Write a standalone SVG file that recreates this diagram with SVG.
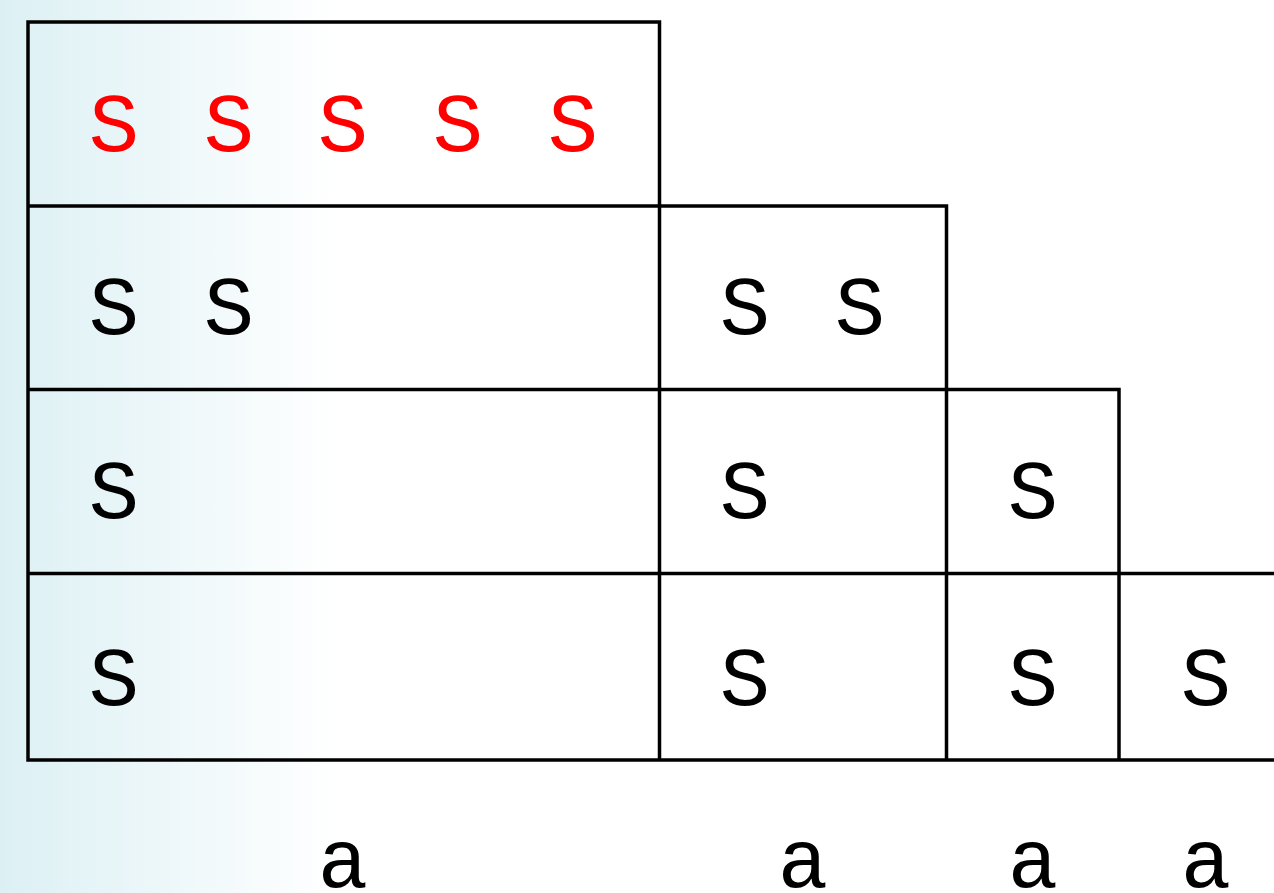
<svg xmlns="http://www.w3.org/2000/svg" width="1274" height="893" viewBox="0 0 1274 893">
<defs>
<linearGradient id="bg" x1="0" y1="0" x2="1" y2="0" gradientUnits="objectBoundingBox">
<stop offset="0" stop-color="#dcf0f4"/>
<stop offset="1" stop-color="#ffffff"/>
</linearGradient>
</defs>
<style>
.ln{stroke:#000;stroke-width:3.5;fill:none;stroke-linecap:square}
.s{font-family:"Liberation Mono","DejaVu Sans Mono",monospace;font-size:84px;text-anchor:middle;fill:#000}
.r{fill:#ff0000}
</style>
<rect x="0" y="0" width="1274" height="893" fill="#fff"/>
<rect x="0" y="0" width="335" height="893" fill="url(#bg)"/>
<g id="connectors">
<path class="ln" d="M28 22H659.5V760M28 22V760M28 206H946.5V760M28 389.5H1119V760M28 573.5H1274M28 760H1274"/>
</g>
<g id="row1">
<text class="s r" x="114" y="151">S</text>
<text class="s r" x="229" y="151">S</text>
<text class="s r" x="343" y="151">S</text>
<text class="s r" x="458" y="151">S</text>
<text class="s r" x="573" y="151">S</text>
</g>
<g id="row2">
<text class="s" x="114" y="334">S</text>
<text class="s" x="229" y="334">S</text>
<text class="s" x="745" y="334">S</text>
<text class="s" x="860" y="334">S</text>
</g>
<g id="row3">
<text class="s" x="114" y="518">S</text>
<text class="s" x="745" y="518">S</text>
<text class="s" x="1033" y="518">S</text>
</g>
<g id="row4">
<text class="s" x="114" y="705">S</text>
<text class="s" x="745" y="705">S</text>
<text class="s" x="1033" y="705">S</text>
<text class="s" x="1206" y="705">S</text>
</g>
<g id="labels">
<text class="s" x="343" y="887">a</text>
<text class="s" x="803" y="887">a</text>
<text class="s" x="1033" y="887">a</text>
<text class="s" x="1206" y="887">a</text>
</g>
</svg>
